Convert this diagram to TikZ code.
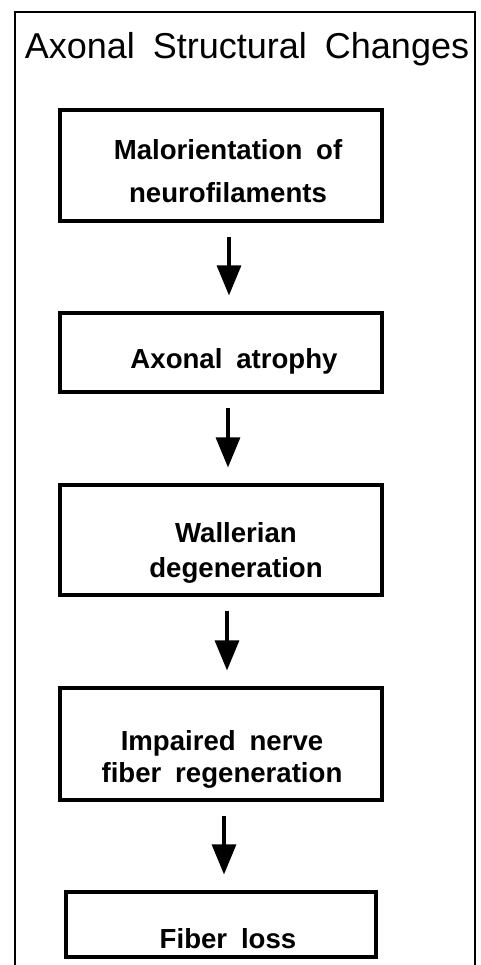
\documentclass[tikz,border=0pt]{standalone}
\usepackage{fontspec}
\setmainfont{Liberation Sans}[WordSpace=1.8]
\usetikzlibrary{arrows.meta,positioning}

\begin{document}
\begin{tikzpicture}[x=0.5pt,y=-0.5pt,on grid,>={Triangle[width=12pt,length=15pt]},
		stepbox/.style={draw,line width=1.6pt,minimum width=161pt,inner sep=0pt},
		steptext/.style={align=center,font=\fontsize{13.8}{16}\selectfont\bfseries},
		flow/.style={->,line width=1.6pt,shorten <=7pt,shorten >=8pt}]
		\useasboundingbox (0,0) rectangle (481,965);
		% frame, open at the bottom
		\draw[line width=1pt] (15,965) -- (15,12) -- (475,12) -- (475,965);
		\node[anchor=base,font=\fontsize{18}{21}\selectfont] (title) at (247,58) {Axonal Structural Changes};
		% boxes
		\node[stepbox,minimum height=55.5pt] (malor) at (221,165.5) {};
		\node[stepbox,minimum height=39.5pt] (atrophy) [below=93.5pt of malor] {};
		\node[stepbox,minimum height=55pt] (waller) [below=93.75pt of atrophy] {};
		\node[stepbox,minimum height=56pt] (impair) [below=102pt of waller] {};
		\node[stepbox,minimum width=155pt,minimum height=32.5pt] (loss) [below=90.25pt of impair] {};
		% texts
		\node[steptext] (malor_t) at ([shift={(3.5pt,-2.75pt)}]malor.center) {Malorientation of\\[5.5pt]neurofilaments};
		\node[steptext,anchor=base] (atrophy_t) at ([shift={(6.5pt,-7.75pt)}]atrophy.center) {Axonal atrophy};
		\node[steptext] (waller_t) at ([shift={(7.5pt,-6.5pt)}]waller.center) {Wallerian\\[1.5pt]degeneration};
		\node[steptext] (impair_t) at ([shift={(0.5pt,-7.5pt)}]impair.center) {Impaired nerve\\fiber regeneration};
		\node[steptext,anchor=base] (loss_t) at ([shift={(3.5pt,-11.75pt)}]loss.center) {Fiber loss};
		% arrows
		\draw[flow] ([xshift=4pt]malor.south) -- ([xshift=4pt]atrophy.north);
		\draw[flow] ([xshift=3.5pt]atrophy.south) -- ([xshift=3.5pt]waller.north);
		\draw[flow] ([xshift=3pt]waller.south) -- ([xshift=3pt]impair.north);
		\draw[flow] ([xshift=1.5pt]impair.south) -- ([xshift=1.5pt]loss.north);
	\end{tikzpicture}
\end{document}
